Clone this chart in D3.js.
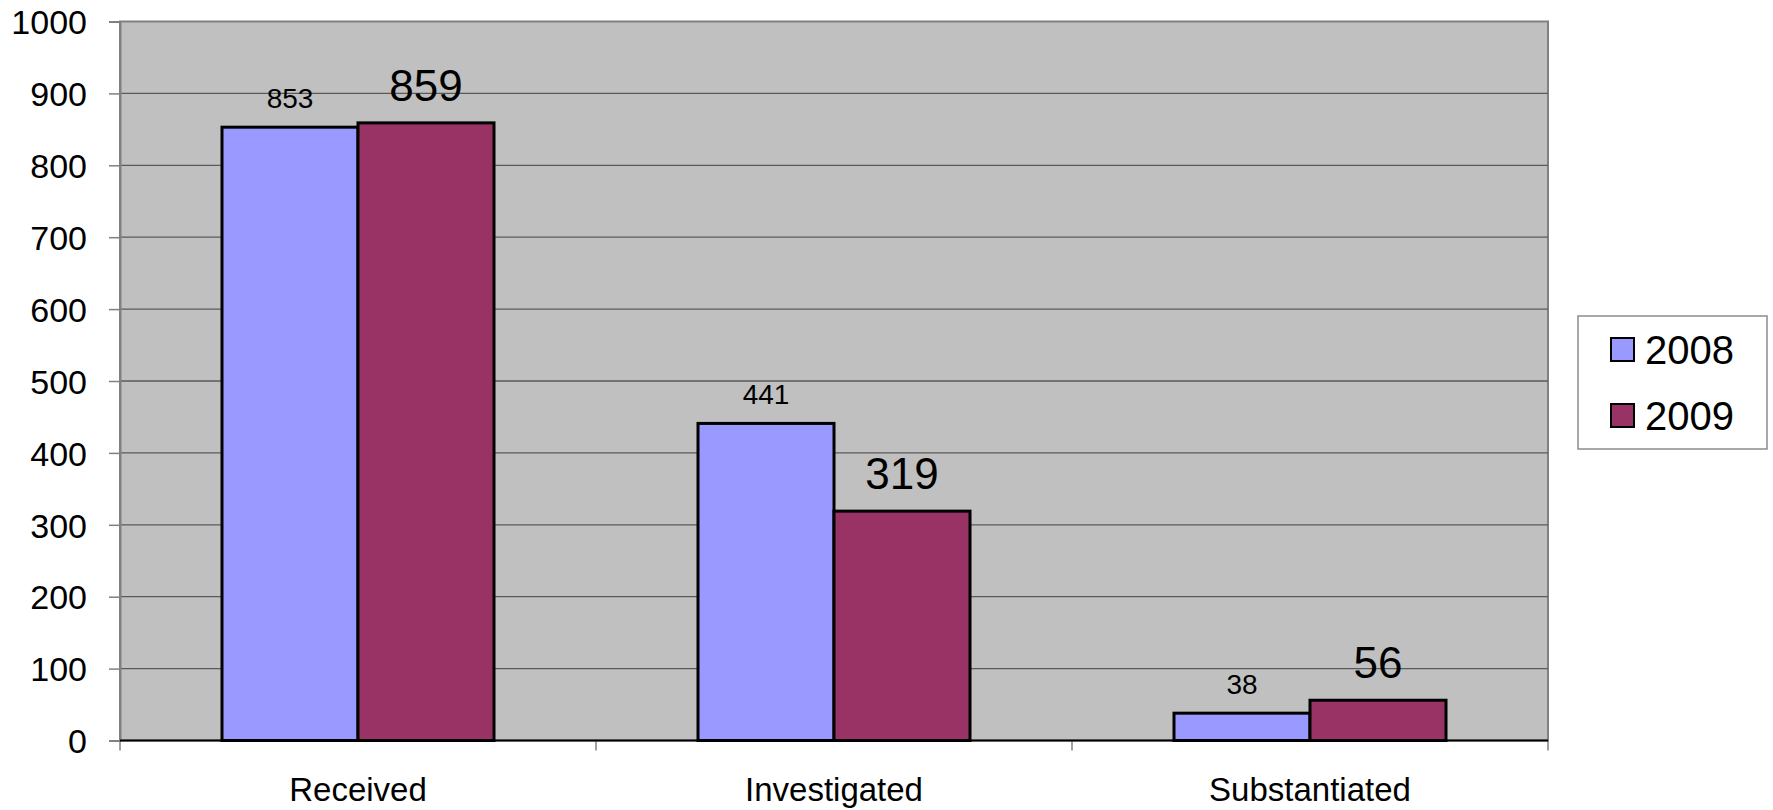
<!DOCTYPE html>
<html>
<head>
<meta charset="utf-8">
<script src="https://cdn.jsdelivr.net/npm/d3@7"></script>
<style>
  html, body { margin: 0; padding: 0; background: #ffffff; }
  svg { display: block; font-family: "Liberation Sans", Arial, sans-serif; }
</style>
</head>
<body>
<svg id="chart" width="1773" height="810"></svg>
<script>
// Complaint counts by stage, 2008 vs 2009
const categories = ["Received", "Investigated", "Substantiated"];
const seriesNames = ["2008", "2009"];
const values2008 = [853, 441, 38];
const values2009 = [859, 319, 56];
const yTicks = [0, 100, 200, 300, 400, 500, 600, 700, 800, 900, 1000];

const seriesColors = { "2008": "#9999FF", "2009": "#993366" };
const labelSizes = { "2008": 28, "2009": 44 };
const labelGaps = { "2008": 19, "2009": 22 };

const rows = categories.map((c, i) => ({
  category: c,
  "2008": values2008[i],
  "2009": values2009[i]
}));

const svg = d3.select("#chart");
const plot = { left: 120, right: 1548, top: 21.5, bottom: 740.5 };

const x0 = d3.scaleBand().domain(categories).range([plot.left, plot.right]).padding(0);
const x1 = d3.scaleBand().domain(seriesNames).range([0, x0.bandwidth()])
  .paddingInner(0).paddingOuter(0.75);
const y = d3.scaleLinear().domain([0, 1000]).range([plot.bottom, plot.top]);

// plot background
svg.append("rect")
  .attr("x", plot.left).attr("y", plot.top)
  .attr("width", plot.right - plot.left).attr("height", plot.bottom - plot.top)
  .attr("fill", "#C0C0C0")
  .attr("stroke", "#808080").attr("stroke-width", 2);

// horizontal gridlines
svg.append("g")
  .selectAll("line")
  .data(yTicks.filter(t => t > 0 && t < 1000))
  .join("line")
  .attr("x1", plot.left).attr("x2", plot.right)
  .attr("y1", d => y(d)).attr("y2", d => y(d))
  .attr("stroke", "#5a5a5a").attr("stroke-width", 1.3);

// y axis
const yAxis = svg.append("g")
  .attr("transform", `translate(${plot.left},0)`)
  .call(d3.axisLeft(y).tickValues(yTicks).tickSize(11).tickPadding(22).tickFormat(d3.format("d")));
yAxis.select(".domain").attr("stroke", "#808080").attr("stroke-width", 2);
yAxis.selectAll(".tick line").attr("stroke", "#808080").attr("stroke-width", 1.5);
yAxis.selectAll(".tick text")
  .attr("font-size", 34).attr("fill", "#000").attr("dy", "0.36em")
  .attr("font-family", "Liberation Sans, Arial, sans-serif");

// x axis
const xAxis = svg.append("g")
  .attr("transform", `translate(0,${plot.bottom})`)
  .call(d3.axisBottom(x0).tickSize(0).tickPadding(37));
xAxis.select(".domain").remove();
xAxis.selectAll(".tick text")
  .attr("font-size", 33).attr("fill", "#000")
  .attr("font-family", "Liberation Sans, Arial, sans-serif");

// category boundary ticks
const boundaries = categories.map(c => x0(c)).concat([x0(categories[categories.length - 1]) + x0.bandwidth()]);
svg.append("g")
  .selectAll("line")
  .data(boundaries)
  .join("line")
  .attr("x1", d => d).attr("x2", d => d)
  .attr("y1", plot.bottom).attr("y2", plot.bottom + 10)
  .attr("stroke", "#808080").attr("stroke-width", 1.5);

// bars
const groups = svg.append("g")
  .selectAll("g")
  .data(rows)
  .join("g")
  .attr("transform", d => `translate(${x0(d.category)},0)`);

groups.selectAll("rect")
  .data(d => seriesNames.map(s => ({ series: s, value: d[s] })))
  .join("rect")
  .attr("x", d => x1(d.series))
  .attr("y", d => y(d.value))
  .attr("width", x1.bandwidth())
  .attr("height", d => y(0) - y(d.value))
  .attr("fill", d => seriesColors[d.series])
  .attr("stroke", "#000").attr("stroke-width", 3);

// zero baseline
svg.append("line")
  .attr("x1", plot.left).attr("x2", plot.right)
  .attr("y1", y(0)).attr("y2", y(0))
  .attr("stroke", "#000").attr("stroke-width", 2);

// value labels
groups.selectAll("text.value")
  .data(d => seriesNames.map(s => ({ series: s, value: d[s] })))
  .join("text")
  .attr("class", "value")
  .attr("x", d => x1(d.series) + x1.bandwidth() / 2)
  .attr("y", d => y(d.value) - labelGaps[d.series])
  .attr("text-anchor", "middle")
  .attr("font-size", d => labelSizes[d.series])
  .attr("fill", "#000")
  .text(d => d.value);

// legend
const legend = svg.append("g");
legend.append("rect")
  .attr("x", 1578).attr("y", 316).attr("width", 189).attr("height", 133)
  .attr("fill", "#fff").attr("stroke", "#8c8c8c").attr("stroke-width", 1.5);

const items = legend.selectAll("g.item")
  .data(seriesNames)
  .join("g")
  .attr("class", "item")
  .attr("transform", (d, i) => `translate(1611,${338 + i * 66})`);
items.append("rect")
  .attr("width", 23).attr("height", 23)
  .attr("fill", d => seriesColors[d])
  .attr("stroke", "#000").attr("stroke-width", 2);
items.append("text")
  .attr("x", 34).attr("y", 25.5)
  .attr("font-size", 40).attr("fill", "#000")
  .text(d => d);
</script>
</body>
</html>
